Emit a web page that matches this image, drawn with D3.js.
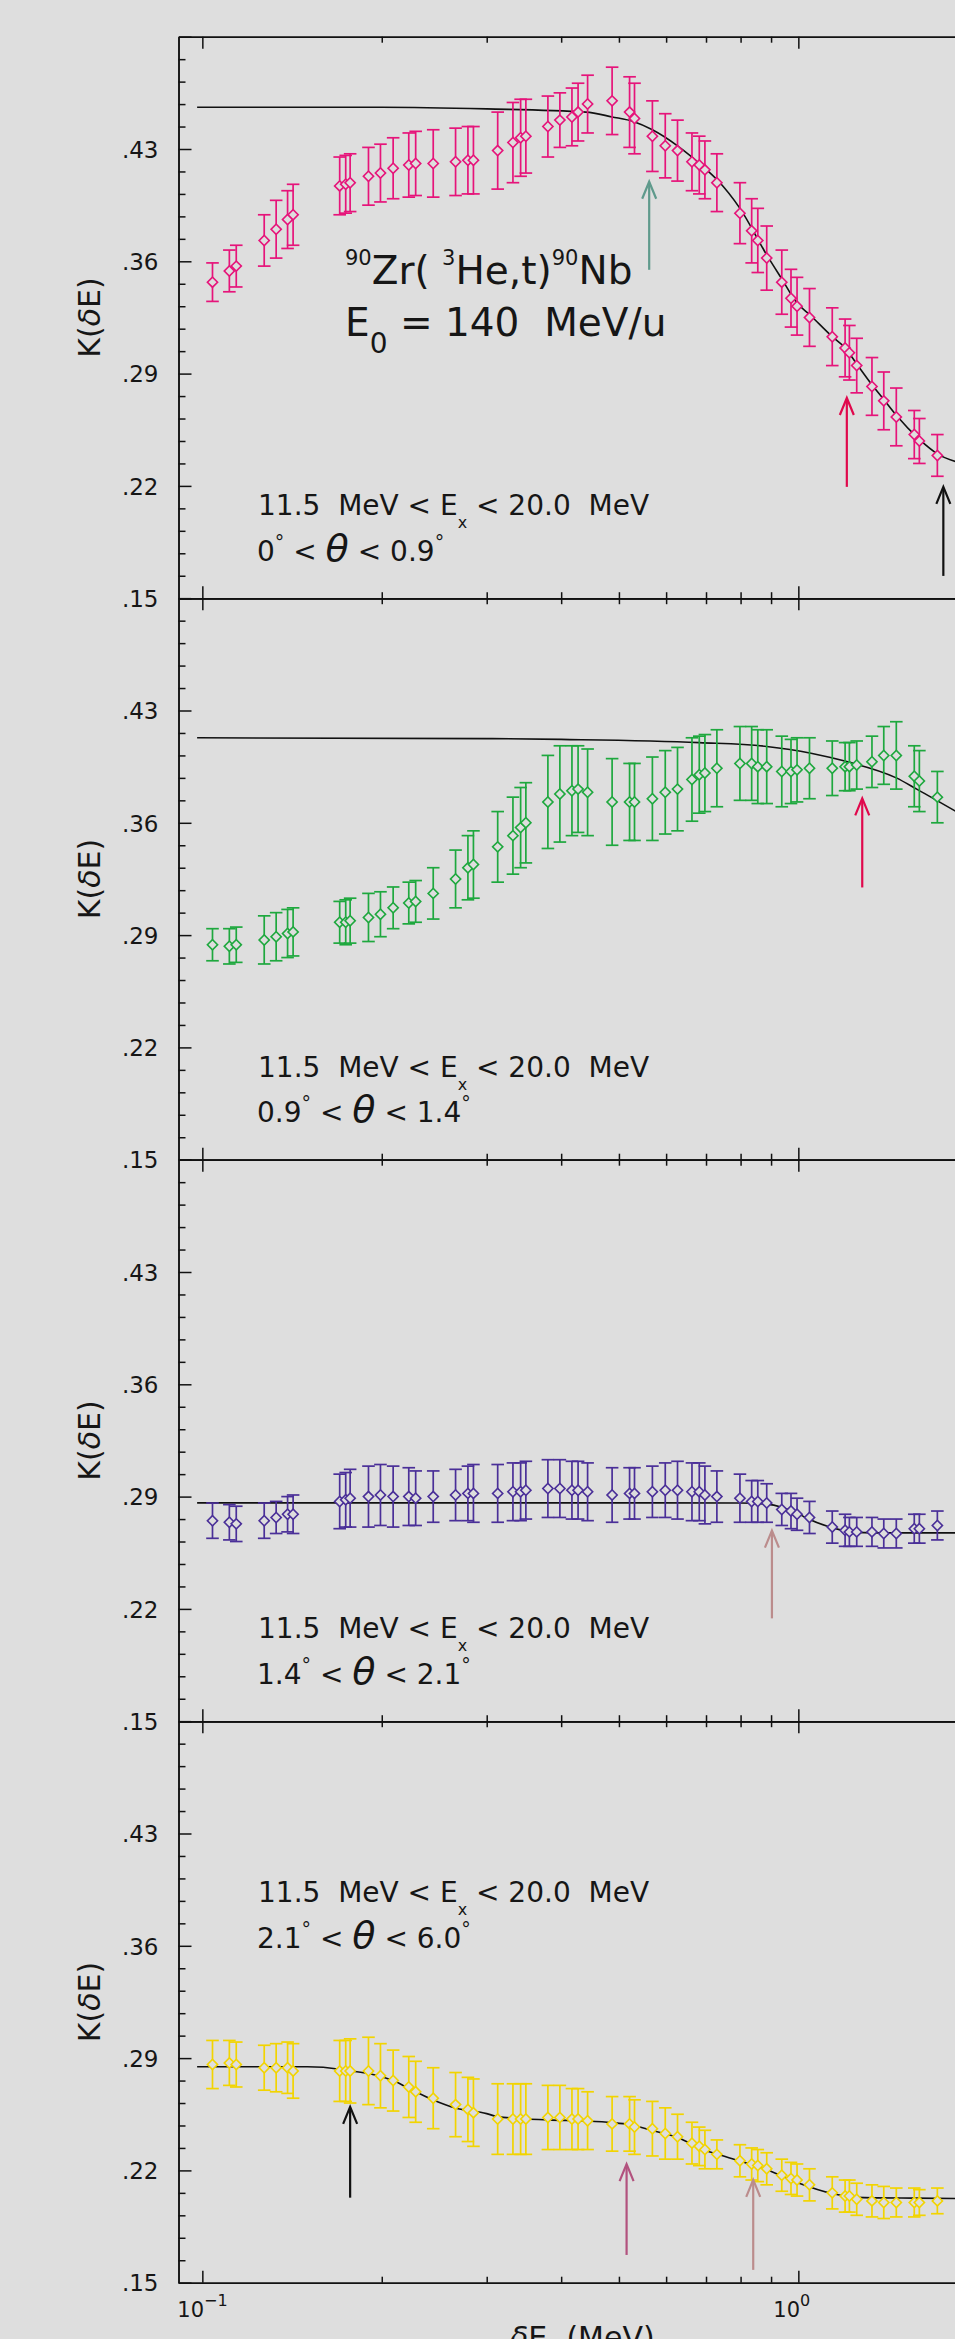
<!DOCTYPE html>
<html>
<head>
<meta charset="utf-8">
<script src="https://cdn.jsdelivr.net/npm/d3@7"></script>
<style>
  body { margin: 0; background: #dedede; }
  text { font-family: "DejaVu Sans", sans-serif; fill: #161616; }
</style>
</head>
<body>
<svg id="chart" width="955" height="2339"></svg>
<script>
// bin centres, deltaE in MeV (same bins in all four panels)
var deltaE = [0.104, 0.111, 0.114, 0.127, 0.133, 0.139, 0.142, 0.170, 0.174, 0.177,
  0.190, 0.199, 0.209, 0.222, 0.228, 0.244, 0.266, 0.279, 0.285, 0.313,
  0.332, 0.342, 0.349, 0.380, 0.398, 0.417, 0.427, 0.443, 0.487, 0.521,
  0.531, 0.569, 0.598, 0.627, 0.663, 0.682, 0.697, 0.730, 0.798, 0.835,
  0.855, 0.885, 0.938, 0.972, 0.995, 1.044, 1.140, 1.198, 1.218, 1.253,
  1.329, 1.391, 1.460, 1.565, 1.596, 1.711];

var k1 = [0.347, 0.354, 0.357, 0.373, 0.380, 0.386, 0.389, 0.407, 0.408, 0.409,
  0.413, 0.415, 0.418, 0.420, 0.421, 0.421, 0.422, 0.423, 0.423, 0.429,
  0.434, 0.437, 0.438, 0.444, 0.448, 0.450, 0.453, 0.458, 0.460, 0.453,
  0.449, 0.438, 0.432, 0.429, 0.422, 0.420, 0.417, 0.409, 0.390, 0.379,
  0.373, 0.362, 0.347, 0.337, 0.332, 0.325, 0.313, 0.306, 0.303, 0.295,
  0.282, 0.273, 0.263, 0.252, 0.248, 0.239];
var err1 = [0.012, 0.013, 0.013, 0.016, 0.018, 0.018, 0.019, 0.018, 0.018, 0.018,
  0.018, 0.018, 0.019, 0.020, 0.020, 0.021, 0.021, 0.021, 0.021, 0.024,
  0.025, 0.024, 0.023, 0.019, 0.017, 0.018, 0.018, 0.018, 0.021, 0.022,
  0.022, 0.022, 0.020, 0.019, 0.018, 0.018, 0.018, 0.018, 0.019, 0.020,
  0.020, 0.020, 0.020, 0.018, 0.018, 0.018, 0.018, 0.018, 0.017, 0.017,
  0.018, 0.018, 0.018, 0.015, 0.014, 0.013];

var k2 = [0.284, 0.283, 0.284, 0.287, 0.289, 0.291, 0.292, 0.298, 0.298, 0.299,
  0.301, 0.303, 0.307, 0.310, 0.311, 0.316, 0.325, 0.332, 0.334, 0.345,
  0.352, 0.357, 0.360, 0.373, 0.378, 0.380, 0.381, 0.379, 0.373, 0.373,
  0.373, 0.375, 0.379, 0.381, 0.387, 0.390, 0.391, 0.394, 0.397, 0.397,
  0.395, 0.395, 0.392, 0.392, 0.393, 0.394, 0.394, 0.395, 0.395, 0.396,
  0.398, 0.402, 0.402, 0.389, 0.386, 0.376];
var err2 = [0.010, 0.011, 0.011, 0.015, 0.015, 0.015, 0.015, 0.013, 0.014, 0.014,
  0.015, 0.014, 0.013, 0.013, 0.013, 0.016, 0.018, 0.020, 0.021, 0.022,
  0.024, 0.025, 0.025, 0.029, 0.030, 0.028, 0.027, 0.027, 0.027, 0.024,
  0.024, 0.026, 0.026, 0.026, 0.026, 0.024, 0.024, 0.024, 0.023, 0.023,
  0.023, 0.023, 0.022, 0.020, 0.020, 0.019, 0.017, 0.015, 0.015, 0.015,
  0.016, 0.018, 0.021, 0.019, 0.019, 0.016];

var k3 = [0.275, 0.274, 0.273, 0.275, 0.277, 0.279, 0.279, 0.287, 0.288, 0.289,
  0.290, 0.291, 0.290, 0.290, 0.289, 0.290, 0.291, 0.292, 0.292, 0.292,
  0.293, 0.293, 0.294, 0.295, 0.295, 0.294, 0.294, 0.293, 0.291, 0.292,
  0.292, 0.293, 0.294, 0.294, 0.293, 0.293, 0.291, 0.290, 0.289, 0.287,
  0.287, 0.286, 0.282, 0.281, 0.279, 0.277, 0.271, 0.269, 0.268, 0.268,
  0.268, 0.267, 0.267, 0.270, 0.270, 0.272];
var err3 = [0.011, 0.011, 0.011, 0.011, 0.010, 0.011, 0.012, 0.017, 0.017, 0.018,
  0.019, 0.019, 0.019, 0.018, 0.017, 0.016, 0.016, 0.017, 0.018, 0.018,
  0.018, 0.018, 0.018, 0.018, 0.018, 0.018, 0.018, 0.018, 0.017, 0.016,
  0.016, 0.016, 0.017, 0.018, 0.018, 0.018, 0.018, 0.016, 0.015, 0.013,
  0.013, 0.012, 0.010, 0.011, 0.010, 0.010, 0.010, 0.010, 0.009, 0.009,
  0.009, 0.009, 0.009, 0.009, 0.009, 0.009];

var k4 = [0.286, 0.287, 0.286, 0.284, 0.284, 0.284, 0.282, 0.282, 0.282, 0.282,
  0.282, 0.279, 0.276, 0.272, 0.269, 0.265, 0.261, 0.258, 0.256, 0.252,
  0.252, 0.252, 0.252, 0.253, 0.253, 0.252, 0.252, 0.251, 0.249, 0.249,
  0.247, 0.246, 0.243, 0.241, 0.237, 0.235, 0.233, 0.230, 0.226, 0.224,
  0.223, 0.221, 0.217, 0.215, 0.214, 0.211, 0.206, 0.204, 0.204, 0.202,
  0.201, 0.200, 0.200, 0.200, 0.200, 0.201];
var err4 = [0.015, 0.014, 0.014, 0.014, 0.015, 0.016, 0.017, 0.019, 0.019, 0.020,
  0.021, 0.020, 0.019, 0.019, 0.019, 0.019, 0.020, 0.020, 0.021, 0.022,
  0.022, 0.022, 0.022, 0.020, 0.020, 0.019, 0.019, 0.018, 0.017, 0.017,
  0.017, 0.017, 0.016, 0.014, 0.013, 0.012, 0.012, 0.009, 0.010, 0.010,
  0.010, 0.010, 0.010, 0.010, 0.010, 0.010, 0.010, 0.010, 0.010, 0.010,
  0.010, 0.010, 0.009, 0.009, 0.008, 0.008];

// fitted curves
var fit1X = [0.098, 0.2, 0.3, 0.44, 0.487, 0.53, 0.569, 0.627, 0.697, 0.730, 0.798, 0.885,
  0.938, 0.995, 1.043, 1.14, 1.198, 1.253, 1.329, 1.39, 1.46, 1.596, 1.711, 1.84];
var fit1Y = [0.456, 0.456, 0.455, 0.453, 0.450, 0.447, 0.442, 0.432, 0.418, 0.411, 0.393, 0.364,
  0.349, 0.334, 0.327, 0.313, 0.306, 0.296, 0.283, 0.274, 0.264, 0.249, 0.240, 0.235];
var fit2X = [0.098, 0.3, 0.4, 0.682, 0.885, 1.05, 1.21, 1.46, 1.58, 1.84];
var fit2Y = [0.413, 0.4125, 0.412, 0.410, 0.4076, 0.4034, 0.398, 0.388, 0.381, 0.367];
var fit3X = [0.098, 0.5, 0.8, 0.885, 0.938, 0.995, 1.04, 1.14, 1.2, 1.25, 1.33, 1.84];
var fit3Y = [0.2861, 0.2861, 0.2860, 0.2853, 0.2834, 0.2797, 0.2760, 0.2706, 0.2686, 0.2677, 0.2674, 0.2674];
var fit4X = [0.098, 0.15, 0.17, 0.1765, 0.19, 0.199, 0.209, 0.22, 0.2435, 0.2655, 0.30, 0.313,
  0.38, 0.443, 0.487, 0.52, 0.569, 0.627, 0.697, 0.73, 0.798, 0.885, 0.995, 1.14, 1.25, 1.56, 1.84];
var fit4Y = [0.2846, 0.2846, 0.2831, 0.2821, 0.2804, 0.2785, 0.2760, 0.2719, 0.2640, 0.2589, 0.2554, 0.2535,
  0.2515, 0.2508, 0.2498, 0.2486, 0.2449, 0.2405, 0.2326, 0.2302, 0.2258, 0.2204, 0.2125, 0.2056, 0.2032, 0.2027, 0.2025];

// arrows: deltaE position, K at tip, K at tail
var arrowsE = [[0.562, 1.206, 1.751], [1.28], [0.903], [0.177, 0.515, 0.840]];
var arrowsTip = [[0.4096, 0.2748, 0.2194], [0.3752], [0.2688], [0.2596, 0.2239, 0.2141]];
var arrowsTail = [[0.3547, 0.2194, 0.1639], [0.3197], [0.2141], [0.2030, 0.1673, 0.1580]];

var thetaLow = ["0", "0.9", "1.4", "2.1"];
var thetaHigh = ["0.9", "1.4", "2.1", "6.0"];
var yMajorTicks = [0.15, 0.22, 0.29, 0.36, 0.43, 0.50];
var yLabelTicks = [0.15, 0.22, 0.29, 0.36, 0.43];
var xMajorTicks = [0.1, 1];
var xMinorTicks = [0.2, 0.3, 0.4, 0.5, 0.6, 0.7, 0.8, 0.9];
var xTickExp = ["\u22121", "0"];

var panels = [
  { k: k1, err: err1, fx: fit1X, fy: fit1Y, color: "#e6147a" },
  { k: k2, err: err2, fx: fit2X, fy: fit2Y, color: "#1ea83e" },
  { k: k3, err: err3, fx: fit3X, fy: fit3Y, color: "#4a2f98" },
  { k: k4, err: err4, fx: fit4X, fy: fit4Y, color: "#f2d400" }
];
var arrowColors = [["#5f9a8c", "#e0084c", "#111111"], ["#e0084c"], ["#bb8c8c"], ["#111111", "#b2527e", "#bb8c8c"]];

var svg = d3.select("#chart");
var W = 955, H = 2339;
var left = 178.5, top0 = 36.7, panelH = 561.5, decadePx = 596;
var xMin = 0.0912, xMax = 1.84;

svg.append("rect").attr("width", W).attr("height", H).attr("fill", "#dedede");

var x = d3.scaleLog().domain([xMin, xMax])
  .range([left, left + decadePx * Math.log10(xMax / xMin)]);

var yMinor = d3.range(0, 26).map(function(i) { return +(0.15 + i * 0.014).toFixed(3); })
  .filter(function(v) { return yMajorTicks.indexOf(v) < 0; });

function styleAxis(g) {
  g.attr("font-family", null).attr("font-size", null);
  g.selectAll("path, line").attr("stroke", "#111").attr("stroke-width", 1.5);
}

panels.forEach(function(p, pi) {
  var top = top0 + pi * panelH;
  var y = d3.scaleLinear().domain([0.15, 0.50]).range([top + panelH, top]);
  var g = svg.append("g");

  // frame: top and bottom with inward ticks
  g.append("g").attr("transform", "translate(0," + top + ")")
    .call(d3.axisBottom(x).tickValues(xMajorTicks).tickSize(12).tickSizeOuter(0).tickFormat(""))
    .call(styleAxis);
  g.append("g").attr("transform", "translate(0," + top + ")")
    .call(d3.axisBottom(x).tickValues(xMinorTicks).tickSize(6).tickSizeOuter(0).tickFormat(""))
    .call(styleAxis);
  g.append("g").attr("transform", "translate(0," + (top + panelH) + ")")
    .call(d3.axisTop(x).tickValues(xMajorTicks).tickSize(12).tickSizeOuter(0).tickFormat(""))
    .call(styleAxis);
  g.append("g").attr("transform", "translate(0," + (top + panelH) + ")")
    .call(d3.axisTop(x).tickValues(xMinorTicks).tickSize(6).tickSizeOuter(0).tickFormat(""))
    .call(styleAxis);

  // left axis
  var ya = g.append("g").attr("transform", "translate(" + left + ",0)")
    .call(d3.axisLeft(y).tickValues(yMajorTicks).tickSize(-13).tickSizeOuter(0).tickPadding(20)
      .tickFormat(function(d) { return yLabelTicks.indexOf(d) >= 0 ? d3.format(".2f")(d).replace(/^0/, "") : ""; }))
    .call(styleAxis);
  ya.selectAll("text").attr("font-size", 23).attr("fill", "#161616").attr("dy", "0.36em");
  g.append("g").attr("transform", "translate(" + left + ",0)")
    .call(d3.axisLeft(y).tickValues(yMinor).tickSize(-7).tickSizeOuter(0).tickFormat(""))
    .call(styleAxis);

  // y title
  var yt = g.append("text")
    .attr("transform", "translate(100," + (top + panelH / 2) + ") rotate(-90)")
    .attr("text-anchor", "middle").attr("font-size", 30);
  yt.append("tspan").text("K(");
  yt.append("tspan").attr("font-style", "italic").text("\u03b4");
  yt.append("tspan").text("E)");

  // fit curve
  var fit = p.fx.map(function(v, i) { return [v, p.fy[i]]; });
  g.append("path").datum(fit)
    .attr("fill", "none").attr("stroke", "#111").attr("stroke-width", 1.6)
    .attr("d", d3.line().x(function(d) { return x(d[0]); }).y(function(d) { return y(d[1]); })
      .curve(d3.curveMonotoneX));

  // data: error bars + open diamonds
  var pts = deltaE.map(function(e, i) { return { e: e, k: p.k[i], s: p.err[i] }; });
  var bars = g.append("g").attr("stroke", p.color).attr("stroke-width", 1.7);
  bars.selectAll("line.v").data(pts).enter().append("line")
    .attr("x1", function(d) { return x(d.e); }).attr("x2", function(d) { return x(d.e); })
    .attr("y1", function(d) { return y(d.k + d.s); }).attr("y2", function(d) { return y(d.k - d.s); });
  bars.selectAll("line.t").data(pts).enter().append("line")
    .attr("x1", function(d) { return x(d.e) - 6.3; }).attr("x2", function(d) { return x(d.e) + 6.3; })
    .attr("y1", function(d) { return y(d.k + d.s); }).attr("y2", function(d) { return y(d.k + d.s); });
  bars.selectAll("line.b").data(pts).enter().append("line")
    .attr("x1", function(d) { return x(d.e) - 6.3; }).attr("x2", function(d) { return x(d.e) + 6.3; })
    .attr("y1", function(d) { return y(d.k - d.s); }).attr("y2", function(d) { return y(d.k - d.s); });
  g.selectAll("path.dia").data(pts).enter().append("path")
    .attr("d", d3.symbol(d3.symbolSquare, 52))
    .attr("transform", function(d) { return "translate(" + x(d.e) + "," + y(d.k) + ") rotate(45)"; })
    .attr("fill", "#dedede").attr("stroke", p.color).attr("stroke-width", 1.6);

  // arrows
  arrowsE[pi].forEach(function(e, ai) {
    var ax = x(e), tipY = y(arrowsTip[pi][ai]), tailY = y(arrowsTail[pi][ai]);
    var c = arrowColors[pi][ai];
    var ag = g.append("g").attr("stroke", c).attr("stroke-width", 2.2).attr("fill", "none");
    ag.append("line").attr("x1", ax).attr("x2", ax).attr("y1", tipY + 1).attr("y2", tailY);
    ag.append("path").attr("d", "M" + (ax - 7) + "," + (tipY + 17) + "L" + ax + "," + tipY + "L" + (ax + 7) + "," + (tipY + 17));
  });

  // range labels
  var ly = pi === 3 ? top + 181.2 : top + 478.5;
  var t1 = g.append("text").attr("x", 258).attr("y", ly).attr("font-size", 28).style("white-space", "pre");
  t1.append("tspan").text("11.5  MeV < E");
  t1.append("tspan").attr("font-size", 16).attr("dy", 13).text("x");
  t1.append("tspan").attr("dy", -13).text(" < 20.0  MeV");

  var t2 = g.append("text").attr("x", 257).attr("y", ly + 45.5).attr("font-size", 28).style("white-space", "pre");
  t2.append("tspan").text(thetaLow[pi]);
  t2.append("tspan").attr("font-size", 19).attr("dy", -12).text("\u00b0");
  t2.append("tspan").attr("dy", 12).text(" < ");
  t2.append("tspan").attr("font-size", 38).attr("font-style", "italic").text("\u03b8");
  t2.append("tspan").text(" < " + thetaHigh[pi]);
  t2.append("tspan").attr("font-size", 19).attr("dy", -12).text("\u00b0");
});

// reaction title in the first panel
var r1 = svg.append("text").attr("x", 345).attr("y", 284).attr("font-size", 39).style("white-space", "pre");
r1.append("tspan").attr("font-size", 21).attr("dy", -19).text("90");
r1.append("tspan").attr("dy", 19).text("Zr( ");
r1.append("tspan").attr("font-size", 21).attr("dy", -19).text("3");
r1.append("tspan").attr("dy", 19).text("He,t)");
r1.append("tspan").attr("font-size", 21).attr("dy", -19).text("90");
r1.append("tspan").attr("dy", 19).text("Nb");

var r2 = svg.append("text").attr("x", 345).attr("y", 336).attr("font-size", 39).style("white-space", "pre");
r2.append("tspan").text("E");
r2.append("tspan").attr("font-size", 28).attr("dy", 17).text("0");
r2.append("tspan").attr("dy", -17).text(" = 140  MeV/u");

// x tick labels and title below the last panel
var xLab = svg.append("g");
xMajorTicks.forEach(function(v, i) {
  var t = xLab.append("text").attr("x", x(v) - 25).attr("y", 2317).attr("font-size", 21);
  t.append("tspan").text("10");
  t.append("tspan").attr("font-size", 16).attr("dy", -11).text(xTickExp[i]);
});
var xt = svg.append("text").attr("x", 510).attr("y", 2348).attr("font-size", 30).style("white-space", "pre");
xt.append("tspan").attr("font-style", "italic").text("\u03b4");
xt.append("tspan").text("E  (MeV)");
</script>
</body>
</html>
